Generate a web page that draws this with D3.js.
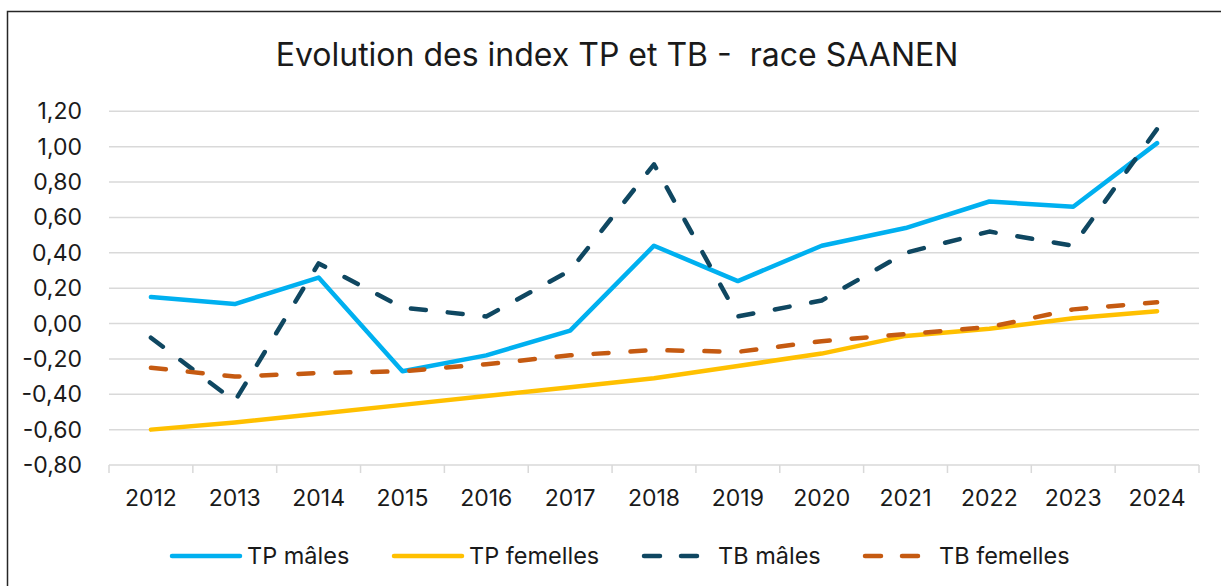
<!DOCTYPE html>
<meta charset="utf-8">
<style>
    body { margin: 0; background: #fff; }
    text { font-family: Inter, "Open Sans", sans-serif; fill: #1a1a1a; }
    .grid line { stroke: #d9d9d9; stroke-width: 1.5px; }
</style>
<script src="https://d3js.org/d3.v7.min.js"></script>
<svg width="1221" height="586"></svg>
<script>
    // data
    var years = ["2012", "2013", "2014", "2015", "2016", "2017", "2018",
                 "2019", "2020", "2021", "2022", "2023", "2024"];
    var tpMales    = [0.15, 0.11, 0.26, -0.27, -0.18, -0.04, 0.44, 0.24, 0.44, 0.54, 0.69, 0.66, 1.02];
    var tpFemelles = [-0.60, -0.56, -0.51, -0.46, -0.41, -0.36, -0.31, -0.24, -0.17, -0.07, -0.03, 0.03, 0.07];
    var tbMales    = [-0.08, -0.44, 0.34, 0.09, 0.04, 0.30, 0.90, 0.04, 0.13, 0.40, 0.52, 0.44, 1.10];
    var tbFemelles = [-0.25, -0.30, -0.28, -0.27, -0.23, -0.18, -0.15, -0.16, -0.10, -0.06, -0.02, 0.08, 0.12];
    var yTicks = [1.2, 1.0, 0.8, 0.6, 0.4, 0.2, 0, -0.2, -0.4, -0.6, -0.8];

    var series = [
        {name: "TP mâles", values: tpMales, color: "#00b0f0", dash: null},
        {name: "TP femelles", values: tpFemelles, color: "#ffc000", dash: null},
        {name: "TB mâles", values: tbMales, color: "#0f4761", dash: "15,22"},
        {name: "TB femelles", values: tbFemelles, color: "#c55a11", dash: "15,22"}
    ];

    var svg = d3.select("svg");

    // outer frame (right and bottom edges fall outside the picture)
    svg.append("rect")
        .attr("x", 7.5).attr("y", 11.5)
        .attr("width", 1240).attr("height", 600)
        .attr("fill", "none")
        .attr("stroke", "#262626")
        .attr("stroke-width", 1.5);

    svg.append("text")
        .attr("x", 617).attr("y", 66)
        .attr("text-anchor", "middle")
        .style("font-size", "32px")
        .style("white-space", "pre")
        .text("Evolution des index TP et TB -  race SAANEN");

    var x = d3.scaleBand().domain(years).range([109, 1199]);
    var y = d3.scaleLinear().domain([-0.8, 1.2]).range([465, 111.3]);
    var cx = function (d) { return x(d) + x.bandwidth() / 2; };
    var fmt = function (v) { return d3.format(".2f")(v).replace(".", ",").replace("−", "-"); };

    // horizontal gridlines
    svg.append("g").attr("class", "grid")
        .selectAll("line")
        .data(yTicks.filter(function (v) { return v > -0.8; }))
        .enter().append("line")
        .attr("x1", 109).attr("x2", 1199)
        .attr("y1", function (d) { return y(d); })
        .attr("y2", function (d) { return y(d); });

    // y labels
    svg.append("g")
        .selectAll("text")
        .data(yTicks)
        .enter().append("text")
        .attr("x", 82)
        .attr("y", function (d) { return y(d); })
        .attr("dy", "0.35em")
        .attr("text-anchor", "end")
        .style("font-size", "23px")
        .text(fmt);

    // category axis
    var axis = svg.append("g").attr("class", "grid");
    axis.append("line")
        .attr("x1", 109).attr("x2", 1199)
        .attr("y1", y(-0.8)).attr("y2", y(-0.8));
    axis.selectAll("line.tick")
        .data(years.concat(["end"]))
        .enter().append("line")
        .attr("class", "tick")
        .attr("x1", function (d, i) { return i < years.length ? x(d) : x.range()[1]; })
        .attr("x2", function (d, i) { return i < years.length ? x(d) : x.range()[1]; })
        .attr("y1", y(-0.8)).attr("y2", y(-0.8) + 8);

    svg.append("g")
        .selectAll("text")
        .data(years)
        .enter().append("text")
        .attr("x", cx)
        .attr("y", 506)
        .attr("text-anchor", "middle")
        .style("font-size", "23px")
        .text(function (d) { return d; });

    var line = d3.line()
        .x(function (d, i) { return cx(years[i]); })
        .y(function (d) { return y(d); });

    svg.append("g")
        .selectAll("path")
        .data(series)
        .enter().append("path")
        .attr("d", function (d) { return line(d.values); })
        .attr("fill", "none")
        .attr("stroke", function (d) { return d.color; })
        .attr("stroke-width", 4.5)
        .attr("stroke-linejoin", "round")
        .attr("stroke-linecap", "round")
        .attr("stroke-dasharray", function (d) { return d.dash; });

    // legend
    var legendX = [172, 394, 644, 865];
    var leg = svg.append("g")
        .selectAll("g")
        .data(series)
        .enter().append("g")
        .attr("transform", function (d, i) { return "translate(" + legendX[i] + ",556)"; });
    leg.append("line")
        .attr("x1", 0).attr("x2", function (d) { return d.dash ? 53 : 68; })
        .attr("stroke", function (d) { return d.color; })
        .attr("stroke-width", 4.5)
        .attr("stroke-linecap", "round")
        .attr("stroke-dasharray", function (d) { return d.dash ? "16,21" : null; });
    leg.append("text")
        .attr("x", function (d) { return d.dash ? 74 : 75; })
        .attr("dy", "0.35em")
        .style("font-size", "23.5px")
        .text(function (d) { return d.name; });
</script>
